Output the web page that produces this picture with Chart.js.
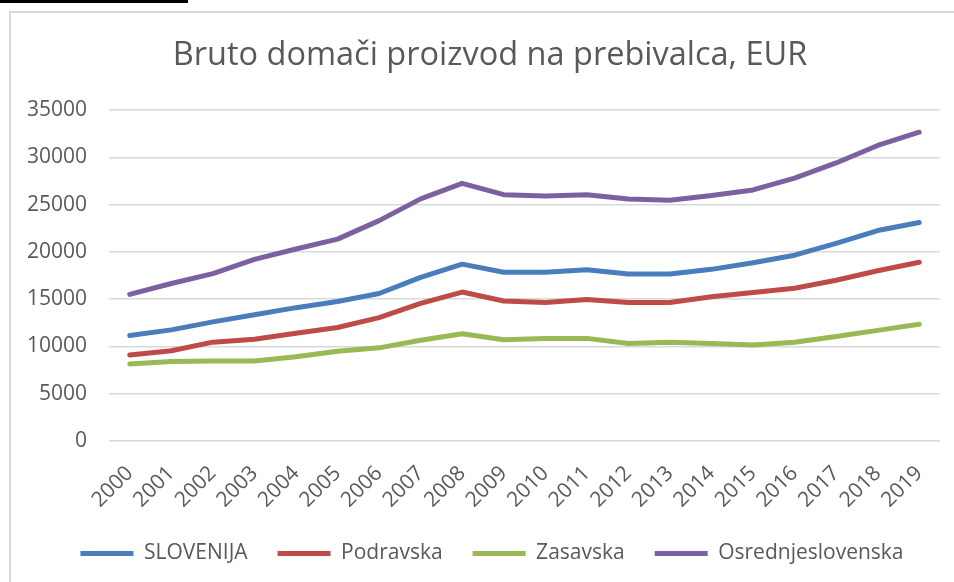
<!DOCTYPE html>
<html>
<head>
<meta charset="utf-8">
<script src="https://cdn.jsdelivr.net/npm/chart.js@4/dist/chart.umd.min.js"></script>
<style>
  html, body { margin: 0; padding: 0; background: #fff; }
  body { width: 954px; height: 582px; position: relative; overflow: hidden; }
  #crta { position: absolute; left: 0; top: 0; width: 188px; height: 3px; background: #000; }
  #okvir { position: absolute; left: 9px; top: 11px; width: 1000px; height: 700px;
           border-left: 2px solid #d9d9d9; border-top: 2px solid #d9d9d9; }
  #wrap { position: absolute; left: 0; top: 0; width: 954px; height: 582px; }
</style>
</head>
<body>
<div id="crta"></div>
<div id="okvir"></div>
<div id="wrap"><canvas id="chartBdp"></canvas></div>
<script>
// podatki
var leta = ['2000', '2001', '2002', '2003', '2004', '2005', '2006', '2007', '2008', '2009',
            '2010', '2011', '2012', '2013', '2014', '2015', '2016', '2017', '2018', '2019'];
var slovenija = [11150, 11750, 12600, 13350, 14100, 14750, 15600, 17300, 18700, 17850,
                 17850, 18100, 17650, 17650, 18150, 18850, 19650, 20900, 22250, 23100];
var podravska = [9100, 9550, 10450, 10750, 11400, 12000, 13050, 14550, 15750, 14800,
                 14650, 14950, 14650, 14650, 15250, 15700, 16150, 17000, 18000, 18900];
var zasavska = [8150, 8400, 8450, 8450, 8900, 9500, 9850, 10650, 11350, 10700,
                10850, 10850, 10300, 10450, 10300, 10150, 10450, 11050, 11700, 12350];
var osrednjeslovenska = [15500, 16650, 17700, 19200, 20300, 21350, 23300, 25600, 27250, 26050,
                         25900, 26050, 25600, 25450, 25950, 26550, 27800, 29400, 31250, 32650];
var yTicks = [0, 5000, 10000, 15000, 20000, 25000, 30000, 35000];
var naslov = 'Bruto domači proizvod na prebivalca, EUR';

var siva = '#595959';
var pisava = "'Open Sans', sans-serif";

function serija(ime, podatki, barva) {
    return {
        label: ime,
        data: podatki,
        borderColor: barva,
        backgroundColor: barva,
        borderWidth: 5,
        borderCapStyle: 'round',
        borderJoinStyle: 'round',
        pointRadius: 0,
        pointHoverRadius: 0,
        tension: 0,
        fill: false
    };
}

// naslov narisemo sami, da je lahko malo desno od sredine
const naslovPlugin = {
    id: 'naslovPlugin',
    beforeDraw: function (chart) {
        // legenda je v originalu malo bolj desno
        chart.legend.left += 22;
        chart.legend.right += 22;
    },
    afterDraw: function (chart) {
        const ctx = chart.ctx;
        ctx.save();
        ctx.font = '32.5px ' + pisava;
        ctx.fillStyle = siva;
        ctx.textAlign = 'center';
        ctx.textBaseline = 'alphabetic';
        ctx.fillText(naslov, 490, 65);
        ctx.restore();
    }
};

const config = {
    type: 'line',
    data: {
        labels: leta,
        datasets: [
            serija('SLOVENIJA', slovenija, '#4a7ebb'),
            serija('Podravska', podravska, '#be4b48'),
            serija('Zasavska', zasavska, '#98b954'),
            serija('Osrednjeslovenska', osrednjeslovenska, '#7d60a0')
        ]
    },
    plugins: [naslovPlugin],
    options: {
        responsive: false,
        animation: false,
        layout: { padding: { left: 0, right: 14, top: 110, bottom: 8 } },
        plugins: {
            title: { display: false },
            legend: {
                position: 'bottom',
                labels: {
                    color: siva,
                    font: { family: pisava, size: 21 },
                    usePointStyle: true,
                    pointStyle: 'line',
                    pointStyleWidth: 53,
                    padding: 30
                }
            },
            tooltip: { enabled: false }
        },
        scales: {
            x: {
                offset: true,
                grid: { display: false },
                border: { display: false },
                ticks: {
                    color: siva,
                    font: { family: pisava, size: 21 },
                    minRotation: 45,
                    maxRotation: 45,
                    padding: 12
                },
                afterFit: function (scale) { scale.height = 72; }
            },
            y: {
                min: 0,
                max: 35000,
                afterBuildTicks: function (scale) {
                    scale.ticks = yTicks.map(function (v) { return { value: v }; });
                },
                grid: { color: '#d9d9d9', lineWidth: 1.5, drawTicks: false },
                border: { display: false },
                ticks: {
                    color: siva,
                    font: { family: pisava, size: 21 },
                    padding: 22,
                    callback: function (v) { return String(v); }
                },
                afterFit: function (scale) { scale.width = 109; }
            }
        }
    }
};

var c = document.getElementById('chartBdp');
c.width = 954;
c.height = 582;
let grafikon = new Chart(c, config);
</script>
</body>
</html>
